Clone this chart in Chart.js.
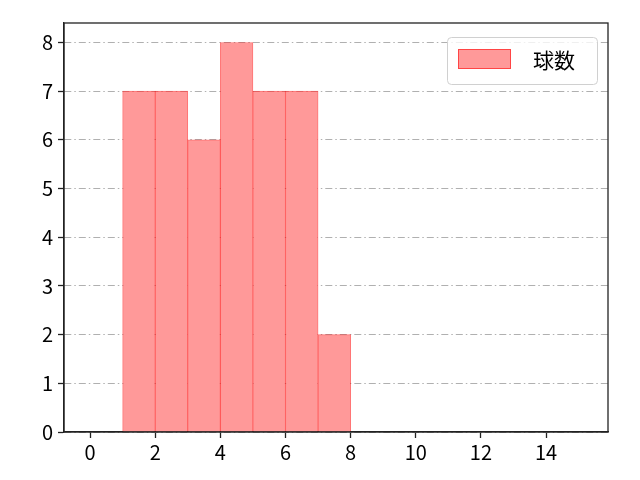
<!DOCTYPE html>
<html>
<head>
<meta charset="utf-8">
<script src="https://cdn.jsdelivr.net/npm/chart.js@4.4.1/dist/chart.umd.min.js"></script>
<style>
  html, body { margin: 0; padding: 0; background: #fff; }
  #wrap { width: 640px; height: 480px; }
</style>
</head>
<body>
<div id="wrap"><canvas id="histChart" width="640" height="480"></canvas></div>
<script>
// histogram bins (left edge .. right edge) and counts
const binCenters = [1.5, 2.5, 3.5, 4.5, 5.5, 6.5, 7.5];
const counts = [7, 7, 6, 8, 7, 7, 2];
const xTicks = [0, 2, 4, 6, 8, 10, 12, 14];
const yTicks = [0, 1, 2, 3, 4, 5, 6, 7, 8];
const seriesName = "球数";

const tickFont = { family: "'Noto Sans CJK JP', 'DejaVu Sans', sans-serif", size: 20 };

// frame around the plot area + matplotlib-like legend box
const framePlugin = {
  id: "frame",
  afterDraw(chart) {
    const { ctx, chartArea: a } = chart;
    ctx.save();
    ctx.strokeStyle = "#222";
    ctx.lineWidth = 1.3;
    ctx.strokeRect(a.left, a.top, a.right - a.left, a.bottom - a.top);

    // legend
    const ds = chart.data.datasets[0];
    const w = 150, h = 47;
    const x = a.right - 11 - w, y = a.top + 14;
    ctx.fillStyle = "rgba(255,255,255,0.8)";
    ctx.strokeStyle = "#d0d0d0";
    ctx.lineWidth = 1;
    ctx.beginPath();
    ctx.roundRect(x + 0.5, y + 0.5, w, h, 4);
    ctx.fill();
    ctx.stroke();
    ctx.fillStyle = ds.backgroundColor;
    ctx.fillRect(x + 11, y + 12, 53, 20);
    ctx.strokeStyle = ds.borderColor;
    ctx.strokeRect(x + 11.5, y + 12.5, 52, 19);
    ctx.fillStyle = "#000";
    ctx.font = "21px 'Noto Sans CJK JP', sans-serif";
    ctx.textBaseline = "middle";
    ctx.fillText(ds.label, x + 86, y + 23);
    ctx.restore();
  }
};

const ctx = document.getElementById("histChart").getContext("2d");
new Chart(ctx, {
  type: "bar",
  data: {
    datasets: [
      {
        label: seriesName,
        data: binCenters.map((c, i) => ({ x: c, y: counts[i] })),
        backgroundColor: "#ff9999",
        borderColor: "rgba(255,0,0,0.55)",
        borderWidth: 1,
        barPercentage: 1.0,
        categoryPercentage: 1.0,
        grouped: false,
      },
    ],
  },
  options: {
    responsive: false,
    animation: false,
    devicePixelRatio: 1,
    layout: { padding: { left: 0, top: 23, right: 32, bottom: 0 } },
    plugins: {
      legend: { display: false },
      tooltip: { enabled: false },
    },
    scales: {
      x: {
        type: "linear",
        offset: false,
        min: -0.8,
        max: 15.9,
        afterFit: (s) => { s.height = 48; },
        afterBuildTicks: (s) => { s.ticks = xTicks.map((v) => ({ value: v })); },
        ticks: { font: tickFont, color: "#000", padding: 2, maxRotation: 0 },
        grid: { offset: false, drawOnChartArea: false, tickLength: 6, tickWidth: 1.3, tickColor: "#222" },
        border: { color: "#222", width: 1.3 },
      },
      y: {
        min: 0,
        max: 8.4,
        afterFit: (s) => { s.width = 64; },
        afterBuildTicks: (s) => { s.ticks = yTicks.map((v) => ({ value: v })); },
        ticks: { font: tickFont, color: "#000", padding: 5 },
        grid: {
          color: "#b0b0b0",
          lineWidth: 1,
          tickLength: 6,
          tickWidth: 1.3,
          tickColor: "#222",
          tickBorderDash: [],
        },
        border: { color: "#222", width: 1.3, dash: [7, 3, 1.5, 3] },
      },
    },
  },
  plugins: [framePlugin],
});
</script>
</body>
</html>
